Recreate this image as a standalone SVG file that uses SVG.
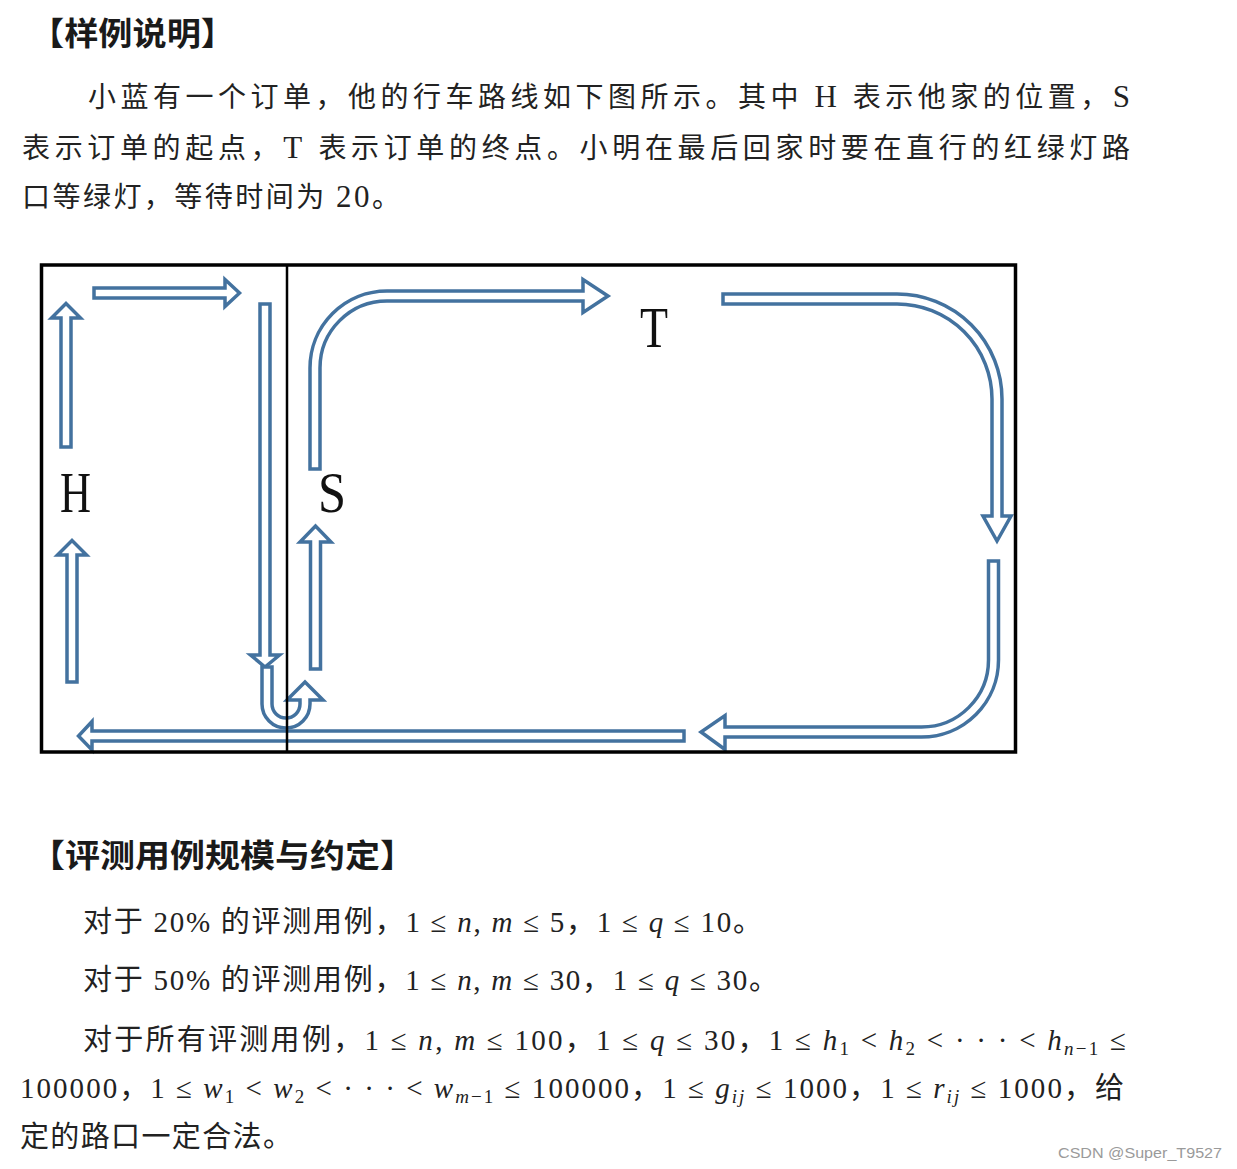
<svg xmlns="http://www.w3.org/2000/svg" width="1237" height="1169" viewBox="0 0 1237 1169">
<style>
.h{font-family:"Noto Sans CJK SC","Noto Sans",sans-serif;font-weight:bold;font-size:32px;fill:#1a1a1a}
.t{font-family:"Liberation Serif","Noto Sans CJK SC",serif;font-size:28px;fill:#222}
.m{font-family:"Liberation Serif","Noto Sans CJK SC",serif;font-size:29px;fill:#222}
.i{font-style:italic}
.lbl{font-family:"Liberation Serif",serif;font-size:58px;fill:#111}
.arr{fill:#fff;stroke:#43729f;stroke-width:3.5;stroke-linejoin:miter}
.wm{font-family:"Liberation Sans",Arial,sans-serif;font-size:15px;fill:#9a9a9a}
</style>
<rect width="1237" height="1169" fill="#fff"/>
<g id="text-top">
<text class="h" x="30" y="45" textLength="205" lengthAdjust="spacingAndGlyphs">【样例说明】</text>
<text class="t" x="88" y="107" textLength="1042" lengthAdjust="spacing">小蓝有一个订单，他的行车路线如下图所示。其中 <tspan font-size="31">H</tspan> 表示他家的位置，<tspan font-size="31">S</tspan></text>
<text class="t" x="22" y="158" textLength="1108" lengthAdjust="spacing">表示订单的起点，<tspan font-size="31">T</tspan> 表示订单的终点。小明在最后回家时要在直行的红绿灯路</text>
<text class="t" x="22" y="207" textLength="378" lengthAdjust="spacing">口等绿灯，等待时间为 <tspan font-size="31">20</tspan>。</text>
</g>
<g id="arrows">
<path class="arr" d="M61,447 L61,318 L51.5,318 L66,303.5 L80.5,318 L71,318 L71,447 Z"/>
<path class="arr" d="M94,288 L225,288 L225,279.5 L239.5,293 L225,306.5 L225,298 L94,298 Z"/>
<path class="arr" d="M260,304 L270,304 L270,655 L279.5,655 L265,667 L250.5,655 L260,655 Z"/>
<path class="arr" d="M262,667 L262,704 A24,24 0 0 0 310,704 L310,700 L323,700 L305,682 L287,700 L300,700 L300,704 A14,14 0 0 1 272,704 L272,667 Z"/>
<path class="arr" d="M67,682 L67,555 L57.5,555 L72,540.5 L86.5,555 L77,555 L77,682 Z"/>
<path class="arr" d="M310.5,669 L310.5,542 L300,542 L315.5,526 L331,542 L320.5,542 L320.5,669 Z"/>
<path class="arr" d="M684,731 L92,731 L92,721.5 L78.5,736 L92,750 L92,741 L684,741 Z"/>
<path class="arr" d="M310,469 L310,368 A77,77 0 0 1 387,291 L583,291 L583,279.5 L608,296 L583,312.5 L583,301 L387,301 A67,67 0 0 0 320,368 L320,469 Z"/>
<path class="arr" d="M723,294 L897,294 A105,105 0 0 1 1002,399 L1002,516 L1011,516 L997,541 L983,516 L992,516 L992,399 A95,95 0 0 0 897,304 L723,304 Z"/>
<path class="arr" d="M988.5,561 L998.5,561 L998.5,660 A77,77 0 0 1 921.5,737 L725,737 L725,749.5 L701,732 L725,715.5 L725,727 L921.5,727 A67,67 0 0 0 988.5,660 Z"/>
</g>
<g id="frame">
<rect x="41.5" y="265" width="974" height="487" fill="none" stroke="#000" stroke-width="3.5"/>
<line x1="287" y1="265" x2="287" y2="752" stroke="#000" stroke-width="2.5"/>
</g>
<g id="node-H"><text class="lbl" x="60" y="512" textLength="31" lengthAdjust="spacingAndGlyphs">H</text></g>
<g id="node-S"><text class="lbl" x="318" y="512" textLength="28" lengthAdjust="spacingAndGlyphs">S</text></g>
<g id="node-T"><text class="lbl" x="640" y="347" textLength="28" lengthAdjust="spacingAndGlyphs">T</text></g>
<g id="text-bottom">
<text class="h" x="30" y="867" textLength="385" lengthAdjust="spacingAndGlyphs">【评测用例规模与约定】</text>
<text class="m" x="83" y="932" textLength="679" lengthAdjust="spacing">对于 20% 的评测用例，1 ≤ <tspan class="i">n</tspan>, <tspan class="i">m</tspan> ≤ 5，1 ≤ <tspan class="i">q</tspan> ≤ 10。</text>
<text class="m" x="83" y="990" textLength="695" lengthAdjust="spacing">对于 50% 的评测用例，1 ≤ <tspan class="i">n</tspan>, <tspan class="i">m</tspan> ≤ 30，1 ≤ <tspan class="i">q</tspan> ≤ 30。</text>
<text class="m" x="83" y="1050" textLength="1043" lengthAdjust="spacing">对于所有评测用例，1 ≤ <tspan class="i">n</tspan>, <tspan class="i">m</tspan> ≤ 100，1 ≤ <tspan class="i">q</tspan> ≤ 30，1 ≤ <tspan class="i">h</tspan><tspan font-size="19" dy="5">1</tspan><tspan dy="-5"> &lt; </tspan><tspan class="i">h</tspan><tspan font-size="19" dy="5">2</tspan><tspan dy="-5"> &lt; · · · &lt; </tspan><tspan class="i">h</tspan><tspan font-size="19" dy="5"><tspan class="i">n</tspan>−1</tspan><tspan dy="-5"> ≤</tspan></text>
<text class="m" x="20" y="1098" textLength="1104" lengthAdjust="spacing">100000，1 ≤ <tspan class="i">w</tspan><tspan font-size="19" dy="5">1</tspan><tspan dy="-5"> &lt; </tspan><tspan class="i">w</tspan><tspan font-size="19" dy="5">2</tspan><tspan dy="-5"> &lt; · · · &lt; </tspan><tspan class="i">w</tspan><tspan font-size="19" dy="5"><tspan class="i">m</tspan>−1</tspan><tspan dy="-5"> ≤ 100000，1 ≤ </tspan><tspan class="i">g</tspan><tspan font-size="19" dy="5" class="i">ij</tspan><tspan dy="-5"> ≤ 1000，1 ≤ </tspan><tspan class="i">r</tspan><tspan font-size="19" dy="5" class="i">ij</tspan><tspan dy="-5"> ≤ 1000，给</tspan></text>
<text class="m" x="20" y="1147" textLength="272" lengthAdjust="spacing">定的路口一定合法。</text>
<text class="wm" x="1058" y="1158" textLength="164" lengthAdjust="spacingAndGlyphs">CSDN @Super_T9527</text>
</g>
</svg>
